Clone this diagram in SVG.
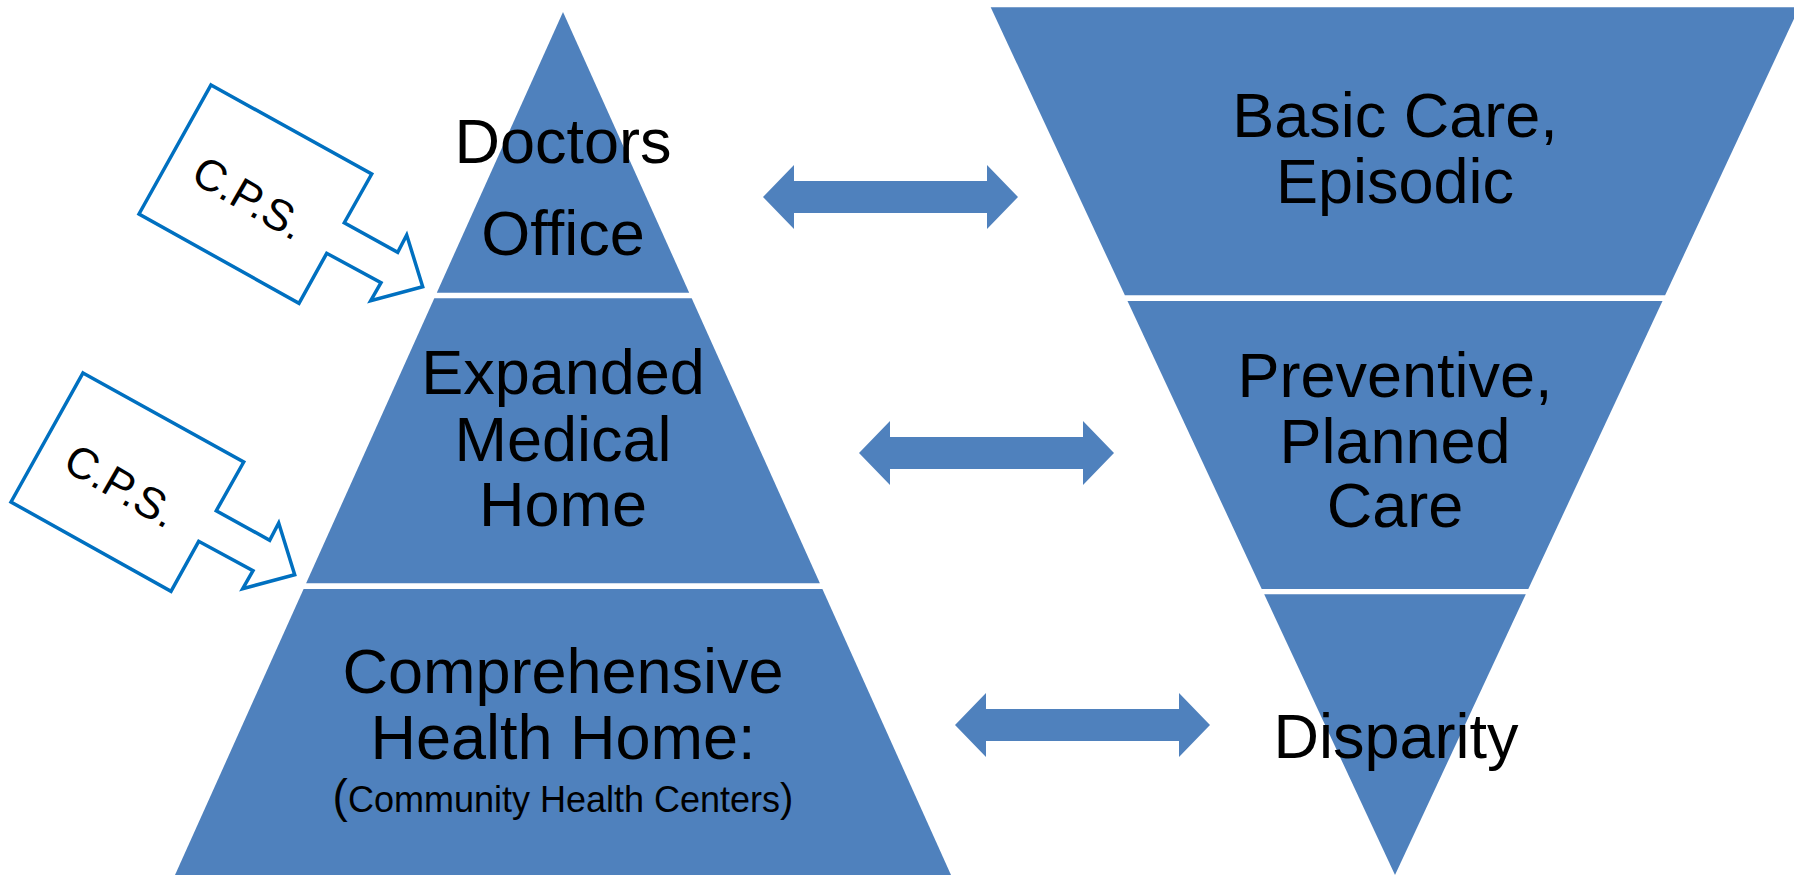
<svg xmlns="http://www.w3.org/2000/svg" xmlns:xlink="http://www.w3.org/1999/xlink" width="1794" height="875" viewBox="0 0 1794 875">
  <style>
    .tier { fill: #4F81BD; }
    .lbl { font-family: "Liberation Sans", Arial, Helvetica, sans-serif; font-size: 63px; fill: #000; text-anchor: middle; }
    .sub { font-family: "Liberation Sans", Arial, Helvetica, sans-serif; font-size: 36px; fill: #000; text-anchor: middle; }
    .cps { fill: #FFFFFF; stroke: #0070C0; stroke-width: 3.5; stroke-linejoin: miter; }
    .cpst { font-family: "Liberation Sans", Arial, Helvetica, sans-serif; font-size: 44px; fill: #000; text-anchor: middle; }
    .arrow { fill: #4F81BD; }
  </style>
  <defs>
    <path id="dblArrow" d="M0,0 L31,-32 L31,-16 L224,-16 L224,-32 L255,0 L224,32 L224,16 L31,16 L31,32 Z"/>
    <polygon id="callout" points="211,85 371.7,174 344.3,222.7 397.7,252.3 406.7,235 422.7,286.7 370.7,300.7 381,282.7 326.7,253.3 299,303.3 139,214"/>
  </defs>
  <rect x="0" y="0" width="1794" height="875" fill="#FFFFFF"/>

  <g id="pyramid-left">
    <g id="doctors-office">
      <polygon class="tier" points="563,12 689.2,292.7 436.8,292.7"/>
      <text class="lbl" x="563" y="162.7">Doctors</text>
      <text class="lbl" x="563" y="255">Office</text>
    </g>
    <g id="expanded-medical-home">
      <polygon class="tier" points="434.3,298.3 691.7,298.3 819.9,583.3 306.1,583.3"/>
      <text class="lbl" x="563" y="394.3">Expanded</text>
      <text class="lbl" x="563" y="460.7">Medical</text>
      <text class="lbl" x="563" y="526">Home</text>
    </g>
    <g id="comprehensive-health-home">
      <polygon class="tier" points="303.6,589 822.4,589 951,875 175,875"/>
      <text class="lbl" x="563" y="693.3">Comprehensive</text>
      <text class="lbl" x="563" y="759">Health Home:</text>
      <text class="sub" x="563" y="811.7"><tspan font-size="46">(</tspan>Community Health Centers<tspan font-size="40">)</tspan></text>
    </g>
  </g>

  <g id="pyramid-right">
    <g id="basic-care">
      <polygon class="tier" points="990.7,7.3 1799.3,7.3 1665.1,295.3 1124.9,295.3"/>
      <text class="lbl" x="1395" y="137.3">Basic Care,</text>
      <text class="lbl" x="1395" y="203.3">Episodic</text>
    </g>
    <g id="preventive-care">
      <polygon class="tier" points="1127.5,301 1662.5,301 1528.3,589 1261.7,589"/>
      <text class="lbl" x="1395" y="396.7">Preventive,</text>
      <text class="lbl" x="1395" y="462.7">Planned</text>
      <text class="lbl" x="1395" y="527.3">Care</text>
    </g>
    <g id="disparity">
      <polygon class="tier" points="1264.2,594.3 1525.8,594.3 1395,875"/>
      <text class="lbl" x="1396" y="758.3">Disparity</text>
    </g>
  </g>

  <g id="cps-1">
    <use xlink:href="#callout" href="#callout" class="cps"/>
    <text class="cpst" x="249" y="213" transform="rotate(30 249 198)">C.P.S.</text>
  </g>
  <g id="cps-2" transform="translate(-128 288)">
    <use xlink:href="#callout" href="#callout" class="cps"/>
    <text class="cpst" x="249" y="213" transform="rotate(30 249 198)">C.P.S.</text>
  </g>

  <g id="connectors">
    <use xlink:href="#dblArrow" href="#dblArrow" class="arrow" transform="translate(763 197)"/>
    <use xlink:href="#dblArrow" href="#dblArrow" class="arrow" transform="translate(859 453)"/>
    <use xlink:href="#dblArrow" href="#dblArrow" class="arrow" transform="translate(955 725)"/>
  </g>
</svg>
